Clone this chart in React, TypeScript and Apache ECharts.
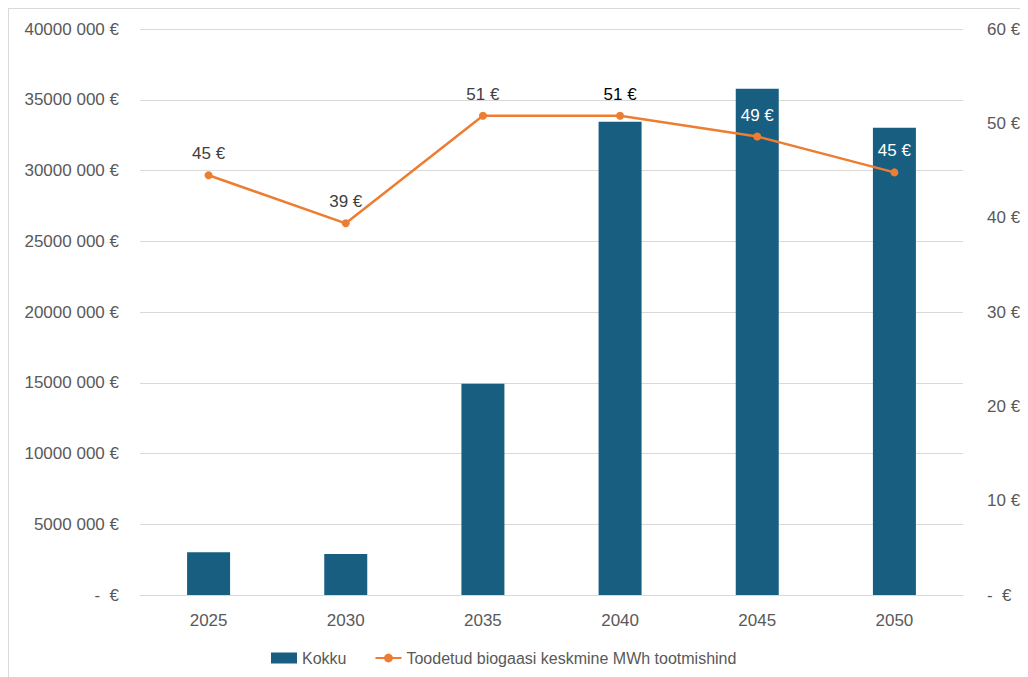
import React, { useEffect, useRef } from "react";
import * as echarts from "echarts";

const years = ["2025", "2030", "2035", "2040", "2045", "2050"];
const kokku = [3030000, 2890000, 14930000, 33450000, 35770000, 33030000];
const price = [44.5, 39.4, 50.8, 50.8, 48.6, 44.8];
const priceLabels = ["45 €", "39 €", "51 €", "51 €", "49 €", "45 €"];
const priceLabelColors = ["#404040", "#404040", "#404040", "#000000", "#ffffff", "#ffffff"];
const leftTicks = ["-  €", "5000 000 €", "10000 000 €", "15000 000 €", "20000 000 €", "25000 000 €", "30000 000 €", "35000 000 €", "40000 000 €"];
const rightTicks = ["-  €", "10 €", "20 €", "30 €", "40 €", "50 €", "60 €"];

const FONT = "'Liberation Sans', Arial, sans-serif";

export default function App() {
  const ref = useRef<HTMLDivElement>(null);
  useEffect(() => {
    document.documentElement.style.overflow = "hidden";
    document.body.style.overflow = "hidden";
    if (!ref.current) return;
    const chart = echarts.init(ref.current, null, { renderer: "svg" });
    chart.setOption({
      animation: false,
      textStyle: { fontFamily: FONT },
      grid: { left: 131, right: 68, top: 20, bottom: 84, containLabel: false },
      legend: {
        left: 257,
        top: 636,
        itemGap: 28,
        itemWidth: 26,
        itemHeight: 11,
        textStyle: { fontSize: 16, color: "#595959", fontFamily: FONT },
        data: [
          { name: "Kokku", icon: "rect" },
          { name: "Toodetud biogaasi keskmine MWh tootmishind" },
        ],
      },
      xAxis: {
        type: "category",
        data: years,
        axisLine: { show: true, lineStyle: { color: "#d9d9d9", width: 1 } },
        axisTick: { show: false },
        axisLabel: { fontSize: 17, color: "#595959", margin: 17, fontFamily: FONT },
      },
      yAxis: [
        {
          type: "value",
          min: 0,
          max: 40000000,
          interval: 5000000,
          axisLine: { show: false },
          axisTick: { show: false },
          splitLine: { lineStyle: { color: "#d9d9d9", width: 1 } },
          axisLabel: {
            fontSize: 17,
            color: "#595959",
            margin: 21,
            fontFamily: FONT,
            formatter: (v: number) => leftTicks[Math.round(v / 5000000)] ?? "",
          },
        },
        {
          type: "value",
          min: 0,
          max: 60,
          interval: 10,
          position: "right",
          axisLine: { show: false },
          axisTick: { show: false },
          splitLine: { show: false },
          axisLabel: {
            fontSize: 17,
            color: "#595959",
            margin: 24,
            fontFamily: FONT,
            formatter: (v: number) => rightTicks[Math.round(v / 10)] ?? "",
          },
        },
      ],
      series: [
        {
          name: "Kokku",
          type: "bar",
          data: kokku,
          barWidth: 43,
          itemStyle: { color: "#175e80" },
          yAxisIndex: 0,
        },
        {
          name: "Toodetud biogaasi keskmine MWh tootmishind",
          type: "line",
          yAxisIndex: 1,
          data: price.map((v, i) => ({
            value: v,
            label: {
              show: true,
              position: "top",
              distance: 9,
              fontSize: 17,
              fontFamily: FONT,
              color: priceLabelColors[i],
              formatter: () => priceLabels[i],
            },
          })),
          symbol: "circle",
          symbolSize: 8,
          lineStyle: { color: "#ed7d31", width: 2.5 },
          itemStyle: { color: "#ed7d31" },
          z: 5,
        },
      ],
    });
    return () => chart.dispose();
  }, []);
  return (
    <div
      ref={ref}
      style={{
        width: 1024,
        height: 672,
        boxSizing: "border-box",
        border: "1px solid #d9d9d9",
        background: "#fff",
      }}
    />
  );
}
